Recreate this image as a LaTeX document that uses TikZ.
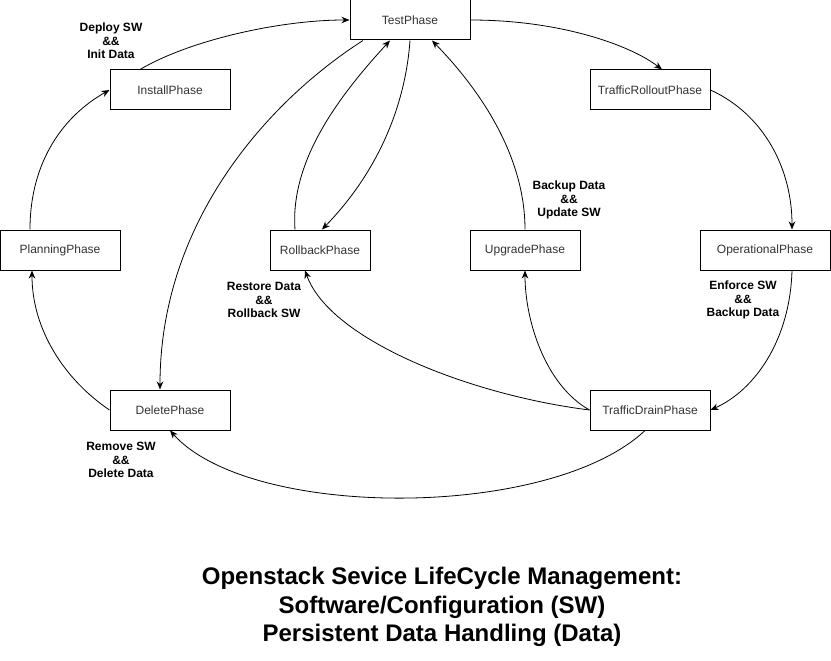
\documentclass[tikz,border=0pt]{standalone}
\usepackage{fontspec}
\setmainfont{Liberation Sans}
\usetikzlibrary{arrows.meta}
\begin{document}
\begin{tikzpicture}[x=1pt,y=-1pt,
  box/.style={draw=black,line width=1pt,fill=white,minimum height=40pt,inner sep=0pt,
    text=black!80,font=\fontsize{12}{14}\selectfont},
  lbl/.style={align=center,font=\fontsize{12}{13.5}\selectfont\bfseries},
  conn/.style={draw=black,line width=0.8pt,-{Stealth[length=8pt,width=6.5pt,inset=2.5pt]}}]
\useasboundingbox (0,0) rectangle (831,661);
\node[box,minimum width=120pt] (test) at (410,20) {TestPhase};
\node[box,minimum width=120pt] (install) at (170,90) {InstallPhase};
\node[box,minimum width=120pt] (rollout) at (650,90) {TrafficRolloutPhase};
\node[box,minimum width=120pt] (planning) at (60,250) {PlanningPhase};
\node[box,minimum width=100pt] (rollback) at (320,250) {RollbackPhase};
\node[box,minimum width=110pt] (upgrade) at (525,250) {UpgradePhase};
\node[box,minimum width=130pt] (oper) at (765,250) {OperationalPhase};
\node[box,minimum width=120pt] (delete) at (170,410) {DeletePhase};
\node[box,minimum width=120pt] (drain) at (650,410) {TrafficDrainPhase};

\draw[conn] ([xshift=-30pt]install.north) .. controls (190,40) and (280,20) .. (test.west);
\draw[conn] (test.east) .. controls (560,20) and (630,45) .. ([xshift=12pt]rollout.north);
\draw[conn] (rollout.east) .. controls (765,115) and (792,170) .. ([xshift=27pt]oper.north);
\draw[conn] ([xshift=27pt]oper.south) .. controls (790,340) and (755,390) .. (drain.east);
\draw[conn] (drain.west) .. controls (545,385) and (525,320) .. (upgrade.south);
\draw[conn] (upgrade.north) .. controls (525,160) and (485,95) .. ([xshift=22pt]test.south);
\draw[conn] (drain.west) .. controls (470,395) and (330,340) .. ([xshift=-15pt]rollback.south);
\draw[conn] ([xshift=-25pt]rollback.north) .. controls (290,160) and (340,95) .. ([xshift=-20pt]test.south);
\draw[conn] (test.south) .. controls (405,110) and (375,175) .. ([xshift=2pt]rollback.north);
\draw[conn] ([xshift=-47pt]test.south) .. controls (270,100) and (160,220) .. ([xshift=-10pt]delete.north);
\draw[conn] ([xshift=-5pt]drain.south) .. controls (550,520) and (250,520) .. (delete.south);
\draw[conn] (delete.west) .. controls (65,380) and (32,330) .. ([xshift=-28pt]planning.south);
\draw[conn] ([xshift=-30pt]planning.north) .. controls (30,160) and (65,115) .. (install.west);

\node[lbl] (l1) at (111,41) {Deploy SW\\\&\&\\Init Data};
\node[lbl] (l2) at (569,200) {Backup Data\\\&\&\\Update SW};
\node[lbl] (l3) at (264,300) {Restore Data\\\&\&\\Rollback SW};
\node[lbl] (l4) at (743,300) {Enforce SW\\\&\&\\Backup Data};
\node[lbl] (l5) at (121,460) {Remove SW\\\&\&\\Delete Data};

\node[align=center,font=\fontsize{24}{28.5}\selectfont\bfseries] (title) at (442,607)
  {Openstack Sevice LifeCycle Management:\\Software/Configuration (SW)\\Persistent Data Handling (Data)};
\end{tikzpicture}
\end{document}
